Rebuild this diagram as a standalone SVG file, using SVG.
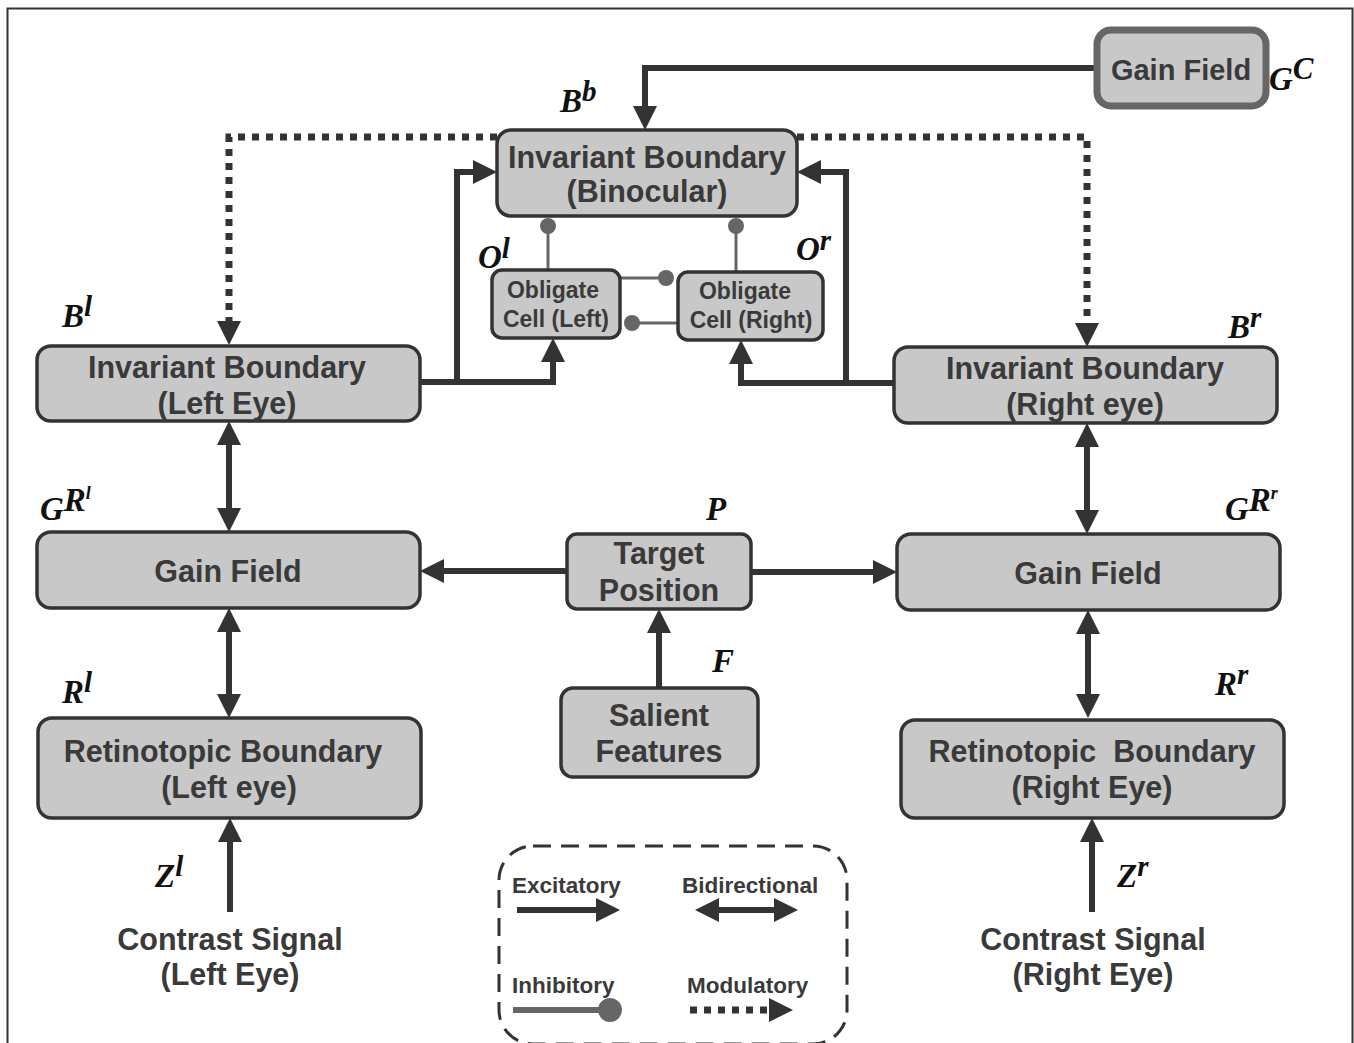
<svg xmlns="http://www.w3.org/2000/svg" width="1354" height="1043" viewBox="0 0 1354 1043">
<defs>
<marker id="ah" viewBox="0 0 24 24" markerWidth="24" markerHeight="24" markerUnits="userSpaceOnUse" refX="6" refY="12" orient="auto-start-reverse">
<path d="M0,0 L24,12 L0,24 z" fill="#333"/>
</marker>
</defs>
<style>
.box{fill:#c8c8c8;stroke:#333;stroke-width:3.5}
.t{font-family:"Liberation Sans",Arial,sans-serif;font-weight:bold;fill:#3a3a3a;text-anchor:middle}
.big{font-size:30.5px}
.small{font-size:23px}
.leg{font-size:22.5px;text-anchor:start}
.m{font-family:"Liberation Serif","Times New Roman",serif;font-weight:bold;font-style:italic;fill:#111;font-size:33px}
.ex{fill:none;stroke:#333;stroke-width:6;marker-end:url(#ah)}
.bi{fill:none;stroke:#333;stroke-width:6;marker-end:url(#ah);marker-start:url(#ah)}
.mod{fill:none;stroke:#333;stroke-width:7;stroke-dasharray:7 7;marker-end:url(#ah)}
.inh{fill:none;stroke:#666;stroke-width:3}
.dot{fill:#666}
</style>
<rect x="7.5" y="8.5" width="1345" height="1045" fill="#fff" stroke="#333" stroke-width="2"/>

<g id="connectors">
<path class="ex" d="M1095,68 H645 V112"/>
<path class="mod" d="M497,137 H229 V327"/>
<path class="mod" d="M797,137 H1087 V329"/>
<path class="ex" d="M420,382 H553 V356"/>
<path class="ex" d="M457,382 V172 H479"/>
<path class="ex" d="M894,383 H741 V358"/>
<path class="ex" d="M846,383 V172 H815"/>
<path class="bi" d="M229,439 V514"/>
<path class="bi" d="M1087,441 V516"/>
<path class="ex" d="M567,571 H438"/>
<path class="ex" d="M751,572 H879"/>
<path class="ex" d="M659,688 V627"/>
<path class="bi" d="M229,626 V700"/>
<path class="bi" d="M1088,628 V700"/>
<path class="ex" d="M230,912 V836"/>
<path class="ex" d="M1092,912 V836"/>
<path class="inh" d="M548,270 V226"/>
<circle class="dot" cx="548" cy="226" r="8"/>
<path class="inh" d="M736,272 V226"/>
<circle class="dot" cx="736" cy="226" r="8"/>
<path class="inh" d="M620,278 H666"/>
<circle class="dot" cx="666" cy="278" r="8"/>
<path class="inh" d="M678,323 H632"/>
<circle class="dot" cx="632" cy="323" r="8"/>
</g>

<g id="gainfield-c">
<rect x="1097" y="30" width="169" height="76" rx="14" fill="#c8c8c8" stroke="#666" stroke-width="7"/>
<text class="t" x="1181" y="80" font-size="29">Gain Field</text>
<text class="m" x="1269" y="90" font-size="30">G<tspan dy="-11" font-size="31">C</tspan></text>
</g>

<g id="ib-binocular">
<rect class="box" x="497" y="130" width="300" height="86" rx="14"/>
<text class="t big" x="647" y="168">Invariant Boundary</text>
<text class="t big" x="647" y="202">(Binocular)</text>
<text class="m" x="560" y="112">B<tspan dy="-11" font-size="29">b</tspan></text>
</g>

<g id="obligate-left">
<rect class="box" x="492" y="270" width="128" height="68" rx="10"/>
<text class="t small" x="553" y="298">Obligate</text>
<text class="t small" x="556" y="327">Cell (Left)</text>
<text class="m" x="478" y="268">O<tspan dy="-10" font-size="29">l</tspan></text>
</g>

<g id="obligate-right">
<rect class="box" x="678" y="272" width="145" height="68" rx="10"/>
<text class="t small" x="745" y="299">Obligate</text>
<text class="t small" x="751" y="328">Cell (Right)</text>
<text class="m" x="796" y="260">O<tspan dy="-10" font-size="29">r</tspan></text>
</g>

<g id="ib-left">
<rect class="box" x="37" y="346" width="383" height="75" rx="14"/>
<text class="t big" x="227" y="378">Invariant Boundary</text>
<text class="t big" x="227" y="414">(Left Eye)</text>
<text class="m" x="62" y="327">B<tspan dy="-11" font-size="29">l</tspan></text>
</g>

<g id="ib-right">
<rect class="box" x="894" y="347" width="383" height="76" rx="14"/>
<text class="t big" x="1085" y="379">Invariant Boundary</text>
<text class="t big" x="1085" y="415">(Right eye)</text>
<text class="m" x="1228" y="338">B<tspan dy="-11" font-size="29">r</tspan></text>
</g>

<g id="gainfield-left">
<rect class="box" x="37" y="532" width="383" height="76" rx="14"/>
<text class="t big" x="228" y="582">Gain Field</text>
<text class="m" x="40" y="520">G<tspan dy="-9">R</tspan><tspan dy="-12" font-size="18">l</tspan></text>
</g>

<g id="gainfield-right">
<rect class="box" x="897" y="534" width="383" height="76" rx="14"/>
<text class="t big" x="1088" y="584">Gain Field</text>
<text class="m" x="1225" y="520">G<tspan dy="-9">R</tspan><tspan dy="-12" font-size="18">r</tspan></text>
</g>

<g id="target-position">
<rect class="box" x="567" y="534" width="184" height="75" rx="10"/>
<text class="t big" x="659" y="564">Target</text>
<text class="t big" x="659" y="601">Position</text>
<text class="m" x="706" y="520">P</text>
</g>

<g id="salient-features">
<rect class="box" x="561" y="688" width="197" height="89" rx="12"/>
<text class="t big" x="659" y="726">Salient</text>
<text class="t big" x="659" y="762">Features</text>
<text class="m" x="712" y="672">F</text>
</g>

<g id="retino-left">
<rect class="box" x="38" y="718" width="383" height="100" rx="14"/>
<text class="t big" x="223" y="762">Retinotopic Boundary</text>
<text class="t big" x="229" y="798">(Left eye)</text>
<text class="m" x="62" y="703">R<tspan dy="-11" font-size="29">l</tspan></text>
</g>

<g id="retino-right">
<rect class="box" x="901" y="720" width="383" height="98" rx="14"/>
<text class="t big" x="1092" y="762" xml:space="preserve">Retinotopic  Boundary</text>
<text class="t big" x="1092" y="798">(Right Eye)</text>
<text class="m" x="1215" y="695">R<tspan dy="-11" font-size="29">r</tspan></text>
</g>

<g id="contrast-left">
<text class="t big" x="230" y="950">Contrast Signal</text>
<text class="t big" x="230" y="985">(Left Eye)</text>
<text class="m" x="155" y="887">Z<tspan dy="-11" font-size="29">l</tspan></text>
</g>

<g id="contrast-right">
<text class="t big" x="1093" y="950">Contrast Signal</text>
<text class="t big" x="1093" y="985">(Right Eye)</text>
<text class="m" x="1117" y="887">Z<tspan dy="-11" font-size="29">r</tspan></text>
</g>

<g id="legend">
<rect x="499" y="846" width="348" height="198" rx="34" fill="none" stroke="#333" stroke-width="3" stroke-dasharray="18 10"/>
<text class="t leg" x="512" y="893">Excitatory</text>
<path class="ex" d="M517,910 H602"/>
<text class="t leg" x="682" y="893">Bidirectional</text>
<path class="bi" d="M713,910 H780"/>
<text class="t leg" x="512" y="993">Inhibitory</text>
<path d="M513,1010 H600" fill="none" stroke="#666" stroke-width="6"/>
<circle class="dot" cx="610" cy="1010" r="12"/>
<text class="t leg" x="687" y="993">Modulatory</text>
<path class="mod" d="M690,1010 H775"/>
</g>
</svg>
